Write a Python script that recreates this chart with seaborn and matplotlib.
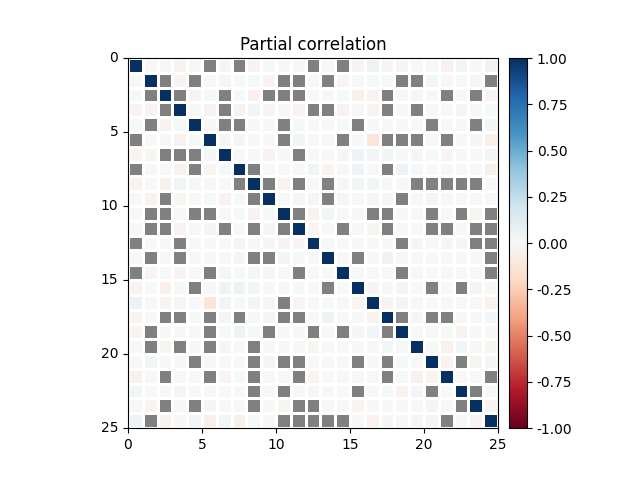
import numpy as np
import seaborn as sns
import matplotlib.pyplot as plt

n_vars = 25

# pairs with no partial correlation shown (grey), upper triangle, row -> cols
masked_cols = [
    [5, 7, 12, 14],
    [2, 4, 10, 11, 13, 18, 19, 24],
    [3, 6, 9, 10, 11, 17, 21, 23],
    [6, 12, 13, 17, 19],
    [6, 7, 10, 15, 20, 23],
    [10, 14, 17, 18, 19, 21],
    [11],
    [8, 17],
    [9, 11, 13, 19, 20, 21, 22, 23],
    [13, 18],
    [11, 16, 17, 20, 22, 24],
    [14, 17, 20, 21, 23, 24],
    [18, 23, 24],
    [15, 24],
    [18, 24],
    [20, 22],
    [],
    [18, 20, 21],
    [],
    [],
    [22],
    [24],
    [23],
    [],
    [],
]

# weak partial correlations that are visibly tinted (upper triangle)
tint_rows = [0, 0, 0, 0, 0, 0, 0, 0, 0, 0,
             1, 1, 1, 1, 1, 1,
             2, 2, 2, 2, 2, 2,
             3, 3, 3, 3, 3, 3, 3, 3,
             4, 4,
             5, 5, 5, 5, 5, 5,
             6, 6, 6, 6, 6, 6, 6, 6,
             7, 7, 7, 7, 7,
             8, 8, 8, 8,
             9, 9, 9, 9, 9, 9,
             10, 10, 10, 11, 11, 12, 12, 12, 13,
             15, 15, 16, 16, 16, 17, 17, 18, 18,
             19, 19, 19, 20, 20, 20, 23]
tint_cols = [3, 6, 8, 15, 16, 17, 18, 21, 22, 24,
             3, 6, 9, 14, 20, 23,
             4, 8, 15, 16, 19, 24,
             5, 7, 8, 9, 11, 14, 16, 22,
             8, 24,
             6, 7, 11, 16, 23, 24,
             9, 14, 15, 16, 17, 19, 21, 24,
             12, 13, 15, 18, 24,
             10, 14, 15, 16,
             11, 12, 14, 16, 17, 20,
             12, 13, 23, 12, 16, 19, 21, 22, 17,
             16, 23, 17, 18, 24, 19, 24, 15, 22,
             21, 22, 24, 21, 23, 24, 24]
tint_vals = [-0.03, -0.02, -0.03, -0.03, 0.05, -0.02, -0.02, -0.04, 0.03, 0.04,
             -0.03, -0.02, -0.03, -0.02, 0.03, -0.02,
             -0.03, -0.05, -0.05, -0.03, -0.02, -0.03,
             -0.04, -0.04, 0.03, -0.02, -0.03, -0.03, -0.02, 0.02,
             0.01, 0.03,
             0.02, -0.02, 0.03, -0.13, 0.02, -0.06,
             -0.03, 0.02, 0.04, 0.03, 0.03, 0.02, -0.02, 0.03,
             0.03, -0.02, 0.04, 0.06, -0.06,
             -0.03, 0.02, 0.03, 0.03,
             0.02, 0.02, 0.02, 0.02, 0.02, 0.02,
             -0.03, 0.03, -0.02, -0.02, -0.02, -0.02, -0.02, 0.02, 0.04,
             -0.02, -0.02, -0.03, 0.03, -0.04, 0.02, 0.02, 0.02, -0.04,
             -0.04, 0.03, -0.02, -0.03, -0.02, 0.02, -0.03]

pcorr = np.zeros((n_vars, n_vars))
for i, j, v in zip(tint_rows, tint_cols, tint_vals):
    pcorr[i, j] = v
    pcorr[j, i] = v
for i, cols in enumerate(masked_cols):
    for j in cols:
        pcorr[i, j] = np.nan
        pcorr[j, i] = np.nan
np.fill_diagonal(pcorr, 1.0)

cmap = plt.get_cmap("RdBu").copy()
cmap.set_bad("grey")

fig = plt.figure(figsize=(6.4, 4.8), dpi=100)
ax = fig.add_axes([0.2, 0.1083, 0.578, 0.7708])
cax = fig.add_axes([0.7953, 0.1083, 0.0281, 0.7708])

sns.heatmap(pcorr, ax=ax, cbar_ax=cax, cmap=cmap, vmin=-1, vmax=1,
            linewidths=0.8, linecolor="white", square=False)

ticks = np.arange(0, n_vars + 1, 5)
ax.set_xticks(ticks)
ax.set_xticklabels(ticks, rotation=0)
ax.set_yticks(ticks)
ax.set_yticklabels(ticks, rotation=0)
ax.tick_params(length=3.5, width=0.8, labelsize=10)
for sp in ax.spines.values():
    sp.set_visible(True)
    sp.set_color("black")
    sp.set_linewidth(0.8)
ax.set_title("Partial correlation", fontsize=12)

cbar = ax.collections[0].colorbar
cbar.set_ticks(np.linspace(-1, 1, 9))
cbar.set_ticklabels([f"{t:.2f}" for t in np.linspace(-1, 1, 9)])
cbar.outline.set_linewidth(0.8)
cbar.outline.set_edgecolor("black")
cax.tick_params(length=3.5, width=0.8, labelsize=10)

fig.savefig("out.png", dpi=100)
